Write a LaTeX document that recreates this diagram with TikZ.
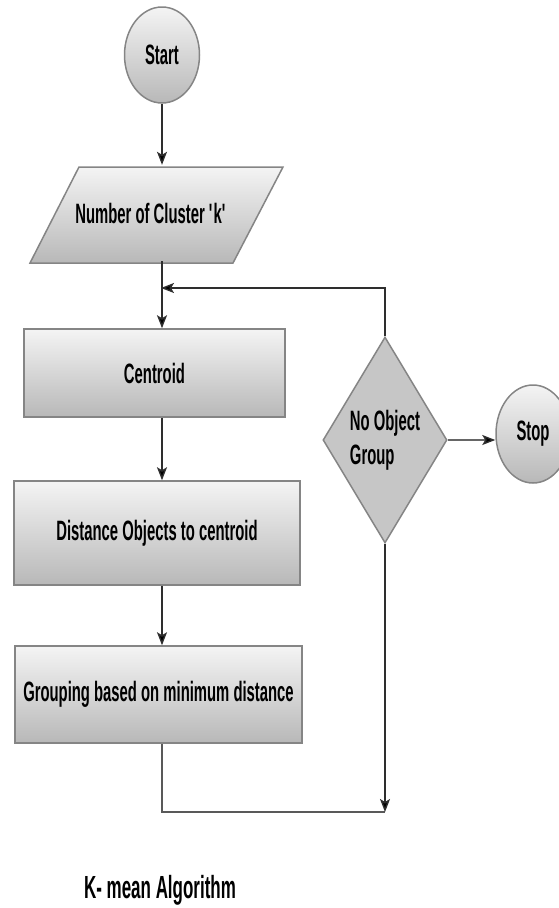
\documentclass[tikz,border=0pt]{standalone}
\usepackage{fontspec}
\setmainfont{Liberation Sans}[FakeStretch=0.53]
\usetikzlibrary{shapes.geometric,arrows.meta}
\definecolor{boxline}{HTML}{858585}
\definecolor{topg}{HTML}{F4F4F4}
\definecolor{botg}{HTML}{B8B8B8}
\definecolor{decg}{HTML}{C6C6C6}
\definecolor{linec}{HTML}{2E2E2E}
\begin{document}
\begin{tikzpicture}[x=1pt,y=-1pt,
  lbl/.style={font=\fontsize{28}{34}\selectfont\bfseries, text=black},
  shadebox/.style={draw=boxline, line width=1.5pt, top color=topg, bottom color=botg},
  box/.style={rectangle, shadebox, inner sep=0pt, lbl},
  term/.style={ellipse, shadebox, minimum width=75pt, minimum height=96pt, inner sep=0pt, lbl},
  dec/.style={diamond, draw=boxline, line width=1.5pt, fill=decg, aspect=0.6, inner sep=0pt,
              minimum width=124pt, minimum height=206pt, lbl, align=left},
  flow/.style={draw=linec, line width=1.4pt, -{Stealth[length=13pt,width=10pt,inset=3pt,fill=black]}},
  heavy/.style={draw=black!65, line width=2.8pt},
]
\useasboundingbox (0,0) rectangle (559,908);
\begin{scope}
\clip (0,0) rectangle (559,908);

% parallelogram
\path[shadebox] (79,167) -- (283,167) -- (233,263) -- (30,263) -- cycle;

\node[term] (start) at (162,55) {Start};
\node[lbl, minimum height=96pt, inner sep=0pt] (input) at (152,213) {Number of Cluster \textquotesingle\kern-2pt k\textquotesingle};
\node[box, minimum width=261pt, minimum height=88pt] (cent) at (154.5,373) {Centroid};
\node[box, minimum width=286pt, minimum height=104pt] (dist) at (157,533) {Distance Objects to centroid};
\node[box, minimum width=287pt, minimum height=97pt] (grp) at (158.5,694.5) {Grouping based on minimum distance};
\node[dec] (dc) at (385,440) {No Object\\Group};
\node[term, minimum height=98pt, minimum width=74pt] (stop) at (533,434) {Stop};
\node[font=\fontsize{32}{36}\selectfont\bfseries] (title) at (160,890) {K- mean Algorithm};

\coordinate (loopin) at (161,288);
\coordinate (corner) at (385,812);

\draw[flow] (start.south) -- (start.south |- input.north);
\draw[flow] (start.south |- input.south) -- (start.south |- cent.north);
\draw[flow] (dc.north) |- (loopin);
\draw[flow] (start.south |- cent.south) -- (start.south |- dist.north);
\draw[flow] (start.south |- dist.south) -- (start.south |- grp.north);
\draw[heavy] (start.south |- grp.south) |- (corner);
\draw[flow] (dc.south) -- (corner);
\draw[heavy, draw=black!60] (dc.east) -- ([xshift=-8pt]dc.east -| stop.west);
\draw[flow] ([xshift=-10pt]dc.east -| stop.west) -- (dc.east -| stop.west);
\end{scope}
\end{tikzpicture}
\end{document}
